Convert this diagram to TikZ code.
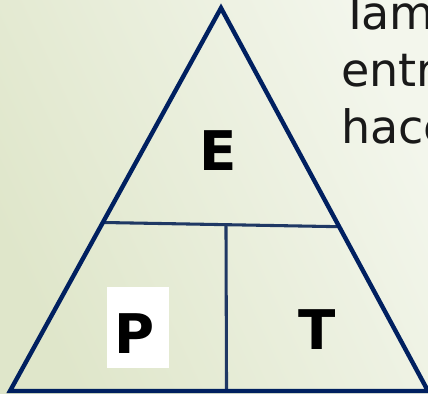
\documentclass[tikz,border=0pt]{standalone}
\usepackage{fontspec}
\setmainfont{DejaVu Sans}
\usetikzlibrary{calc}
\definecolor{navyline}{RGB}{0,32,96}
\definecolor{innerline}{RGB}{31,56,100}
\definecolor{bgdark}{RGB}{223,230,202}
\definecolor{bglight}{RGB}{243,246,236}

\begin{document}
\begin{tikzpicture}[x=0.75pt, y=-0.75pt,
  letter/.style={font=\fontsize{41}{49}\selectfont\bfseries, text=black, inner sep=0pt},
  bodytext/.style={font=\fontsize{34.5}{42}\selectfont, text=black!90, anchor=base west, inner sep=0pt}]
  \useasboundingbox (0,0) rectangle (428,393);
  \clip (0,0) rectangle (428,393);
  % Background
  \shade[top color=bglight, bottom color=bgdark, shading angle=-65] (0,0) rectangle (428,393);
  % Corners of the triangle
  \coordinate (apex) at (221,8);
  \coordinate (left) at (10,391);
  \coordinate (right) at (428,391);
  % Dividing lines
  \coordinate (hl) at ($(apex)!0.56!(left)$);
  \coordinate (hr) at ($(apex)!0.571!(right)$);
  \coordinate (mid) at ($(hl)!0.521!(hr)$);
  \coordinate (foot) at ($(left)!0.518!(right)$);
  \draw[innerline, line width=2.3pt] (hl) -- (hr);
  \draw[innerline, line width=2.3pt] (mid) -- (foot);
  % Triangle
  \draw[navyline, line width=3.3pt, line join=miter] (apex) -- (left) -- (right) -- cycle;
  % Letters
  \node[letter] (E) at (218,151) {E};
  \node[fill=white, inner sep=0pt, minimum width=46.5pt, minimum height=60.75pt] (pbox) at (138,327.5) {};
  \node[letter] (P) at (135,334) {P};
  \node[letter] (T) at (317.5,329.5) {T};
  % Side text
  \node[bodytext] (line1) at (341,29) {Tam};
  \node[bodytext] (line2) at (341,86) {entr};
  \node[bodytext] (line3) at (341,143) {hace};
\end{tikzpicture}
\end{document}
